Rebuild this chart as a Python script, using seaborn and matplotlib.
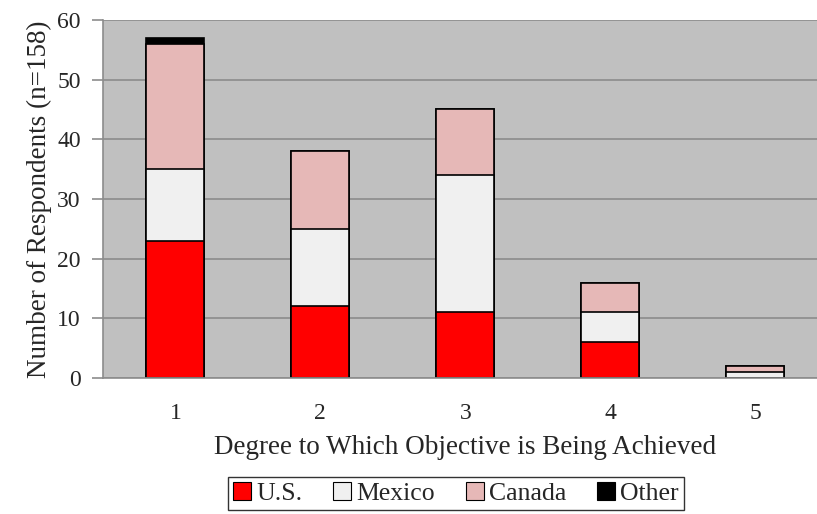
import matplotlib
matplotlib.use("Agg")
import matplotlib.pyplot as plt
import seaborn as sns
import pandas as pd
import numpy as np
from matplotlib.patches import Patch

categories = ["1", "2", "3", "4", "5"]
us = [23, 12, 11, 6, 0]
mexico = [12, 13, 23, 5, 1]
canada = [21, 13, 11, 5, 1]
other = [1, 0, 0, 0, 0]

series_names = ["U.S.", "Mexico", "Canada", "Other"]
series_values = [us, mexico, canada, other]
colors = ["#FF0000", "#F0F0F0", "#E6B8B7", "#000000"]

sns.set_style("white")
plt.rcParams["font.family"] = ["Liberation Serif", "DejaVu Serif"]

fig = plt.figure(figsize=(8.17, 5.14), dpi=100)
ax = fig.add_axes([0.126, 0.2646, 0.887, 0.6966])
ax.set_facecolor("#C0C0C0")

cum = np.cumsum(np.array(series_values), axis=0)
for i in range(len(series_names) - 1, -1, -1):
    df = pd.DataFrame({"cat": categories, "val": cum[i]})
    sns.barplot(data=df, x="cat", y="val", color=colors[i], width=0.4,
                edgecolor="#000000", linewidth=1.2, saturation=1, ax=ax)

ax.set_ylim(0, 60)
ax.set_xlim(-0.5, 4.5)
ax.set_yticks(range(0, 61, 10))
ax.yaxis.grid(True, color="#8C8C8C", linewidth=1.2)
ax.set_axisbelow(True)
for s in ["top", "right"]:
    ax.spines[s].set_visible(False)
for s in ["left", "bottom"]:
    ax.spines[s].set_color("#8C8C8C")
    ax.spines[s].set_linewidth(1.2)

ax.set_xticks(range(5))
ax.set_xticklabels(categories)
ax.set_xticks(np.arange(-0.5, 4.6, 1), minor=True)
ax.tick_params(axis="x", which="major", length=0, labelsize=17, pad=18)
ax.tick_params(axis="x", which="minor", length=7, color="#8C8C8C", width=1.2, direction="out")
ax.tick_params(axis="y", length=8, color="#8C8C8C", width=1.2, labelsize=17, direction="out", left=True, pad=8)

ax.set_xlabel("Degree to Which Objective is Being Achieved", fontsize=19.5, labelpad=8)
ax.set_ylabel("Number of Respondents (n=158)", fontsize=19.5, labelpad=4)

handles = [Patch(facecolor=c, edgecolor="#000000", linewidth=0.8) for c in colors]
leg = fig.legend(handles, series_names, loc="center", bbox_to_anchor=(0.558, 0.04), ncol=4,
                 fontsize=18.5, frameon=True, fancybox=False, edgecolor="#000000",
                 handlelength=0.7, handleheight=0.7, handletextpad=0.2, columnspacing=1.2,
                 borderpad=0.2, borderaxespad=0)
leg.get_frame().set_linewidth(1.0)

fig.savefig("out.png", dpi=100, facecolor="white")
